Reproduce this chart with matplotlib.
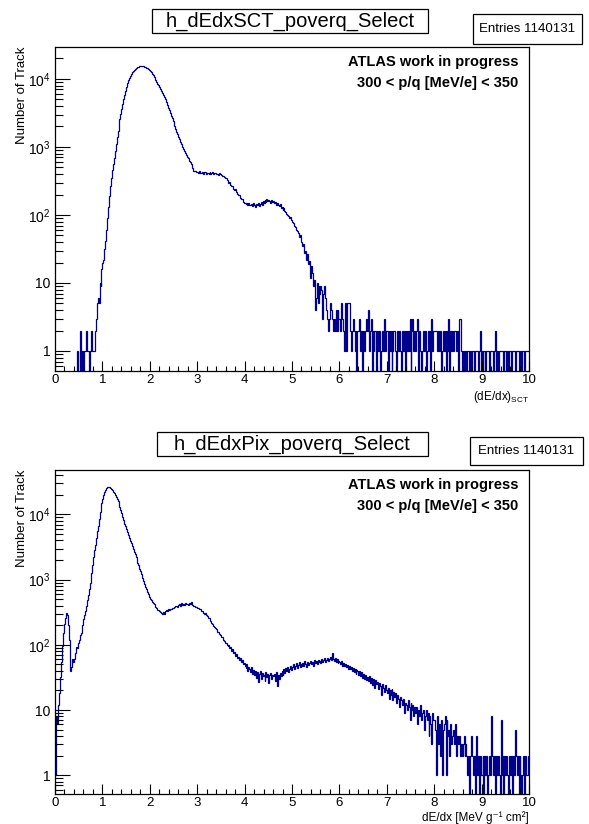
import matplotlib.pyplot as plt
import numpy as np
from matplotlib.patches import Rectangle
from matplotlib.ticker import MultipleLocator, FuncFormatter, LogLocator, NullFormatter

plt.rcParams['font.family'] = ['Liberation Sans', 'DejaVu Sans']
plt.rcParams['mathtext.default'] = 'regular'

# 500 bins from 0 to 10
edges = np.linspace(0, 10, 501)

# h_dEdxSCT_poverq_Select : counts per bin
sct_a = [0] * 23 + [1, 0, 0, 2, 0, 1, 1, 0, 1, 1, 2, 1, 1, 0, 1, 2, 1, 1, 1, 2, 3, 5]  # 0.00-0.88
sct_b = [  # 0.90-5.58
    6, 5, 10, 9, 16, 20, 22, 32, 42, 60,
    89, 132, 190, 263, 355, 457, 562, 692, 871, 1096,
    1380, 1700, 2090, 2570, 3090, 3630, 4270, 5010, 5750, 6610,
    7590, 8710, 9660, 10470, 11220, 11890, 12450, 13030, 13490, 13960,
    14350, 14690, 15000, 15240, 15420, 15520, 15560, 15490, 15350, 15140,
    14890, 14590, 14260, 13870, 13430, 12940, 12450, 11890, 11300, 10720,
    10120, 9550, 9020, 8510, 8040, 7590, 7160, 6760, 6310, 5890,
    5500, 5010, 4570, 4170, 3800, 3470, 3160, 2880, 2630, 2400,
    2190, 2000, 1820, 1660, 1530, 1410, 1290, 1190, 1100, 1010,
    930, 870, 810, 760, 710, 680, 630, 600, 560, 540,
    490, 450, 440, 445, 425, 430, 415, 440, 420, 410,
    430, 405, 425, 435, 400, 420, 410, 395, 425, 405,
    415, 430, 400, 410, 420, 395, 405, 390, 410, 400,
    385, 375, 380, 360, 350, 355, 330, 320, 300, 305,
    280, 265, 270, 245, 235, 240, 215, 205, 195, 200,
    180, 170, 172, 155, 150, 152, 145, 148, 140, 150,
    142, 138, 145, 135, 150, 140, 130, 145, 138, 150,
    135, 145, 155, 140, 160, 150, 165, 155, 170, 158,
    168, 160, 150, 165, 155, 160, 148, 155, 142, 150,
    140, 135, 145, 128, 132, 120, 125, 115, 110, 105,
    100, 95, 90, 92, 84, 80, 75, 70, 66, 60,
    58, 55, 48, 50, 42, 40, 35, 38, 28, 30,
    22, 27, 19, 21, 12, 18, 14, 9, 11, 4,
    6, 10, 5, 9, 7,
]
sct_c = [  # 5.60-9.98
    9, 8, 3, 7, 9, 6, 4, 3, 2, 3,
    5, 4, 3, 2, 3, 2, 4, 2, 4, 3,
    3, 2, 5, 3, 2, 1, 5, 1, 5, 5,
    5, 2, 1, 2, 3, 2, 1, 2, 0, 2,
    2, 3, 1, 2, 0, 2, 1, 2, 3, 2,
    4, 1, 2, 3, 0, 2, 1, 2, 2, 0,
    2, 1, 2, 0, 1, 2, 1, 3, 1, 2,
    2, 0, 2, 1, 2, 0, 1, 2, 2, 1,
    0, 2, 1, 2, 1, 0, 2, 1, 2, 0,
    2, 1, 2, 1, 3, 0, 2, 3, 1, 2,
    1, 2, 3, 0, 2, 1, 0, 1, 2, 1,
    2, 0, 1, 2, 1, 2, 0, 3, 1, 2,
    2, 2, 2, 1, 2, 1, 2, 0, 1, 2,
    1, 2, 0, 2, 1, 3, 0, 2, 1, 2,
    1, 2, 2, 1, 2, 0, 3, 3, 1, 0,
    1, 0, 1, 1, 0, 1, 1, 0, 1, 0,
    1, 1, 0, 1, 1, 1, 0, 1, 2, 0,
    1, 0, 1, 1, 0, 1, 1, 1, 0, 1,
    1, 1, 0, 1, 2, 0, 1, 0, 1, 1,
    1, 1, 1, 0, 1, 1, 0, 1, 0, 1,
    1, 0, 1, 1, 1, 0, 1, 1, 1, 0,
    1, 1, 0, 1, 1, 0, 1, 1, 1, 1,
]

# h_dEdxPix_poverq_Select : counts per bin
pix_a = [  # 0.00-1.98
    1, 8, 6, 12, 18, 32, 55, 95, 150, 195,
    205, 255, 310, 290, 200, 120, 40, 45, 60, 55,
    60, 75, 92, 88, 105, 120, 140, 150, 165, 200,
    245, 285, 330, 400, 480, 580, 720, 900, 1250, 1650,
    2200, 2800, 3450, 4300, 5500, 6760, 8510, 10720, 12880, 15140,
    17380, 19950, 21880, 23710, 25120, 25880, 26180, 26000, 25410, 24550,
    23440, 22390, 21380, 19950, 18620, 17180, 15850, 14450, 13030, 11610,
    10350, 9120, 8130, 7240, 6610, 6030, 5370, 4900, 4420, 3980,
    3630, 3270, 2950, 2690, 2430, 2210, 2000, 1820, 1660, 1480,
    1350, 1200, 1070, 955, 850, 776, 708, 646, 603, 550,
]
pix_b = [  # 2.00-7.98
    513, 490, 457, 437, 417, 398, 380, 363, 347, 339,
    331, 316, 309, 295, 320, 300, 330, 340, 335, 350,
    345, 360, 355, 370, 365, 380, 375, 390, 400, 385,
    410, 420, 400, 440, 415, 430, 410, 435, 420, 425,
    410, 440, 420, 455, 410, 415, 400, 395, 380, 385,
    365, 370, 350, 355, 335, 330, 310, 300, 305, 285,
    275, 260, 255, 235, 230, 215, 212, 195, 190, 178,
    172, 160, 158, 145, 143, 132, 130, 118, 115, 108,
    105, 100, 95, 98, 88, 91, 80, 86, 75, 78,
    68, 72, 62, 66, 58, 63, 55, 59, 50, 53,
    48, 44, 50, 40, 46, 42, 38, 45, 36, 41,
    35, 40, 31, 38, 27, 36, 39, 30, 37, 33,
    35, 28, 38, 32, 36, 26, 34, 37, 30, 35,
    33, 36, 28, 38, 23, 34, 30, 37, 33, 39,
    35, 42, 37, 44, 40, 46, 38, 43, 48, 41,
    45, 50, 43, 48, 52, 44, 49, 55, 46, 51,
    48, 53, 47, 56, 50, 45, 54, 49, 52, 57,
    50, 55, 48, 58, 53, 56, 51, 59, 54, 57,
    52, 60, 55, 58, 62, 54, 59, 63, 57, 61,
    65, 58, 76, 60, 56, 63, 55, 60, 52, 57,
    54, 50, 56, 48, 53, 47, 51, 45, 49, 43,
    47, 42, 45, 40, 44, 38, 43, 36, 41, 39,
    35, 40, 33, 38, 31, 36, 30, 34, 29, 32,
    28, 33, 26, 31, 24, 30, 27, 22, 29, 25,
    27, 21, 26, 23, 17, 25, 22, 19, 24, 20,
    18, 22, 15, 20, 17, 21, 14, 19, 16, 18,
    13, 17, 15, 11, 16, 14, 12, 15, 9, 13,
    12, 10, 14, 11, 7, 13, 10, 12, 8, 11,
    9, 11, 6, 10, 8, 12, 7, 9, 10, 5,
    8, 10, 7, 9, 4, 8, 6, 3, 9, 7,
]
pix_c = [  # 8.00-9.98
    7, 5, 1, 8, 3, 6, 2, 7, 1, 5,
    6, 8, 1, 7, 4, 5, 2, 6, 3, 4,
    5, 3, 6, 2, 4, 3, 4, 2, 3, 2,
    3, 4, 2, 3, 2, 1, 2, 0, 2, 4,
    2, 1, 2, 0, 4, 1, 2, 0, 2, 1,
    1, 2, 0, 2, 1, 2, 0, 1, 2, 1,
    8, 2, 1, 2, 0, 2, 1, 2, 1, 0,
    7, 1, 2, 0, 2, 1, 2, 1, 0, 2,
    1, 2, 0, 2, 1, 5, 2, 1, 2, 0,
    2, 1, 0, 1, 2, 0, 2, 1, 1, 2,
]

sct = np.array(sct_a + sct_b + sct_c, dtype=float)
pix = np.array(pix_a + pix_b + pix_c, dtype=float)

W, H = 589, 824
fig = plt.figure(figsize=(W / 100, H / 100), dpi=100)
line_col = '#00008f'


def yfmt(v, pos):
    if v == 1:
        return '1'
    if v == 10:
        return '10'
    return r'$10^{%d}$' % round(np.log10(v))


def box(x0, y0, x1, y1):
    # rectangle given in pixels from the top left corner
    fig.add_artist(Rectangle((x0 / W, 1 - y1 / H), (x1 - x0) / W, (y1 - y0) / H,
                             transform=fig.transFigure, fc='white', ec='black', lw=0.9))


def panel(top, counts, ylim, title, tbox, sbox, xlabel, xlab_y):
    ax = fig.add_axes([55 / W, 1 - (top + 324) / H, 474 / W, 324 / H])
    ax.stairs(np.where(counts > 0, counts, 1e-3), edges, baseline=None,
              color=line_col, lw=0.9)
    ax.set_yscale('log')
    ax.set_xlim(0, 10)
    ax.set_ylim(*ylim)
    ax.xaxis.set_major_locator(MultipleLocator(1))
    ax.xaxis.set_minor_locator(MultipleLocator(0.2))
    ax.yaxis.set_major_locator(LogLocator(base=10))
    ax.yaxis.set_minor_locator(LogLocator(base=10, subs=np.arange(2, 10)))
    ax.yaxis.set_major_formatter(FuncFormatter(yfmt))
    ax.yaxis.set_minor_formatter(NullFormatter())
    ax.tick_params(axis='x', which='major', direction='in', length=7, width=0.8, labelsize=9.5, pad=2.5)
    ax.tick_params(axis='x', which='minor', direction='in', length=3.5, width=0.8)
    ax.tick_params(axis='y', which='major', direction='in', length=10.5, width=0.8, labelsize=10, pad=3)
    ax.tick_params(axis='y', which='minor', direction='in', length=5.5, width=0.8)
    for s in ax.spines.values():
        s.set_linewidth(0.9)

    ax.set_ylabel('Number of Track', fontsize=9.5, loc='top')
    ax.yaxis.set_label_coords(-0.057, 1.0)
    ax.set_xlabel(xlabel, fontsize=8.5, loc='right')
    ax.xaxis.set_label_coords(1.0, xlab_y)

    ax.text(0.977, 0.954, 'ATLAS work in progress', transform=ax.transAxes,
            ha='right', va='center', fontsize=10.5, fontweight='bold')
    ax.text(0.977, 0.889, '300 < p/q [MeV/e] < 350', transform=ax.transAxes,
            ha='right', va='center', fontsize=10.5, fontweight='bold')

    box(*tbox)
    fig.text((tbox[0] + tbox[2]) / 2 / W, 1 - (tbox[1] + tbox[3]) / 2 / H, title,
             ha='center', va='center', fontsize=14.5)
    box(*sbox)
    fig.text((sbox[0] + sbox[2]) / 2 / W, 1 - (sbox[1] + sbox[3]) / 2 / H, 'Entries 1140131',
             ha='center', va='center', fontsize=9.5)
    return ax


panel(47, sct, (0.508, 29500), 'h_dEdxSCT_poverq_Select',
      (152, 9, 428, 33), (473, 14, 582, 44), r'$(dE/dx)_{SCT}$', -0.056)
panel(470, pix, (0.515, 48000), 'h_dEdxPix_poverq_Select',
      (157, 432, 428, 456), (470, 437, 583, 465), 'dE/dx [MeV g\u207b\u00b9 cm\u00b2]', -0.053)

fig.savefig('out.png', dpi=100)
